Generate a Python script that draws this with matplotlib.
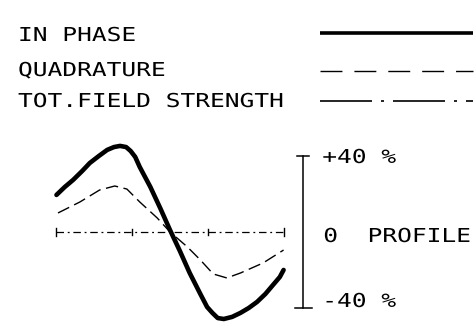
import matplotlib
matplotlib.use("Agg")
import matplotlib.pyplot as plt
from matplotlib import patheffects
from matplotlib.transforms import Affine2D

# Profile stations (m) and anomaly values (% of primary field)
ip_station = [-150, -139, -128, -116, -106, -94, -83, -74, -66, -58, -52, -46, -40,
              -26, -13, 0, 13, 26, 40, 49, 56, 63, 71, 82, 93, 104, 115, 126, 136, 145, 150]
ip_value = [19.5, 23.7, 27.4, 32.1, 36.3, 40.0, 43.2, 44.7, 45.3, 44.7, 42.6, 39.5, 34.2,
            23.7, 12.6, 1.0, -10.0, -21.6, -32.6, -39.5, -42.6, -45.3, -45.8, -44.7, -42.6,
            -40.0, -36.8, -32.6, -27.9, -23.7, -20.0]

q_station = [-148, -119, -93, -73, -57, -40, -17, 0, 23, 40, 57, 75, 93, 123, 150]
q_value = [10.0, 15.8, 22.1, 24.2, 22.6, 15.8, 7.4, 0.0, -7.9, -14.7, -22.1, -24.2,
           -21.6, -16.3, -9.5]

profile_ends = [-150, 150]
profile_ticks = [-50, 50]
scale_limits = [-40, 40]
scale_labels = ["-40 %", "+40 %"]
legend_labels = ["IN PHASE", "QUADRATURE", "TOT.FIELD STRENGTH"]

W, H, DPI = 477, 334, 100
FONT = "DejaVu Sans Mono"
FS = 13.8


class Stretch(patheffects.AbstractPathEffect):
    """Widen glyphs horizontally around the text origin (plotter-style lettering)."""

    def __init__(self, sx):
        super().__init__()
        self.sx = sx

    def draw_path(self, renderer, gc, tpath, affine, rgbFace=None):
        renderer.draw_path(gc, tpath, Affine2D().scale(self.sx, 1.0) + affine, rgbFace)


TXT = dict(family=FONT, size=FS, color="black", path_effects=[Stretch(1.28)],
           ha="left", va="baseline")

fig = plt.figure(figsize=(W / DPI, H / DPI), dpi=DPI)
fig.patch.set_facecolor("white")

# data axes: station (m) horizontally, anomaly (%) vertically
ax = fig.add_axes([0, 0, 1, 1])
ax.set_xlim(-224.6, 405.5)
ax.set_ylim(-53.7, 122.1)
ax.axis("off")

# layout axes in pixel units for the key
lay = fig.add_axes([0, 0, 1, 1])
lay.set_xlim(0, W)
lay.set_ylim(H, 0)
lay.axis("off")
lay.patch.set_visible(False)

# profile line with end caps and station ticks
ax.plot(profile_ends, [0, 0], color="black", lw=0.9,
        linestyle=(0, (6, 3, 1.5, 3)), zorder=1)
for xe in profile_ends:
    ax.plot([xe, xe], [-2.1, 2.1], color="black", lw=1.0, zorder=1)
for xt in profile_ticks:
    ax.plot([xt, xt], [-1.6, 1.6], color="black", lw=1.0, zorder=1)

# anomaly curves
ax.plot(q_station, q_value, color="black", lw=1.0, linestyle=(0, (9, 4)), zorder=2)
ax.plot(ip_station, ip_value, color="black", lw=3.3, solid_capstyle="round",
        solid_joinstyle="round", zorder=3)

# vertical scale bar
BAR_X = 176
ax.plot([BAR_X, BAR_X], scale_limits, color="black", lw=1.1)
ax.plot([BAR_X - 8, BAR_X + 8], [scale_limits[1]] * 2, color="black", lw=1.1)
ax.plot([BAR_X - 11, BAR_X + 11], [scale_limits[0]] * 2, color="black", lw=1.1)
ax.annotate(scale_labels[1], xy=(BAR_X, scale_limits[1]), xytext=(19, -7),
            textcoords="offset pixels", **TXT)
ax.annotate(scale_labels[0], xy=(BAR_X, scale_limits[0]), xytext=(19, 1),
            textcoords="offset pixels", **TXT)
ax.annotate("0  PROFILE", xy=(BAR_X, 0), xytext=(20, -10),
            textcoords="offset pixels", **TXT)

# key
rows_y = [33, 71, 101]
base_y = [41, 76, 107]
for lbl, yb in zip(legend_labels, base_y):
    lay.text(18, yb, lbl, **TXT)
lay.plot([320, 473], [rows_y[0]] * 2, color="black", lw=2.6, solid_capstyle="butt")
lay.plot([320, 473], [rows_y[1]] * 2, color="black", lw=1.0,
         linestyle=(0, (15.8, 8.6)))
lay.plot([320, 473], [rows_y[2]] * 2, color="black", lw=1.2,
         linestyle=(0, (31.2, 5.4, 1.8, 5.4)))

fig.savefig("out.png", dpi=DPI, facecolor="white")
